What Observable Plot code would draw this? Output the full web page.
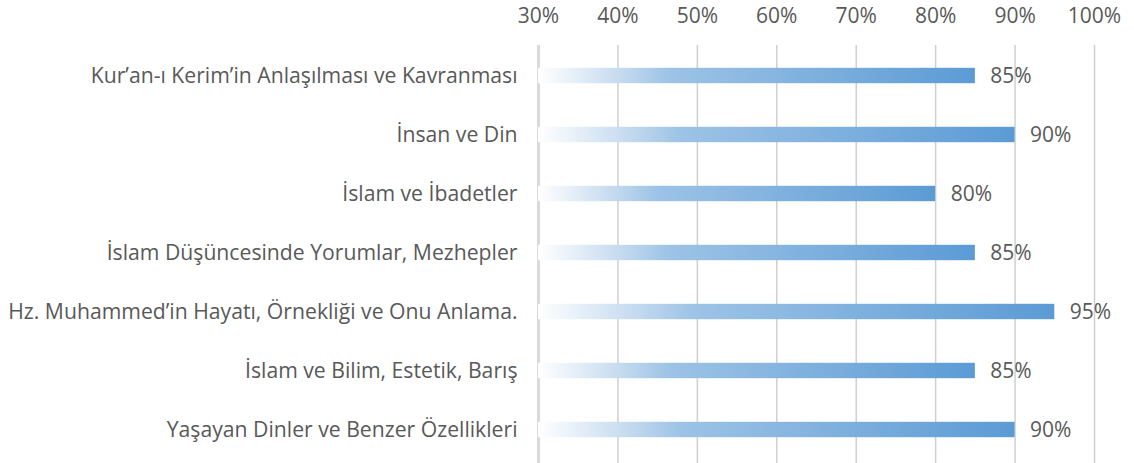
<!DOCTYPE html>
<html>
<head>
<meta charset="utf-8">
<script src="https://cdn.jsdelivr.net/npm/d3@7"></script>
<script src="https://cdn.jsdelivr.net/npm/@observablehq/plot@0.6"></script>
<style>
  html, body { margin: 0; padding: 0; background: #fff; }
  #chart svg { display: block; }
</style>
</head>
<body>
<div id="chart"></div>
<script>
const categories = [
  "Kur’an-ı Kerim’in Anlaşılması ve Kavranması",
  "İnsan ve Din",
  "İslam ve İbadetler",
  "İslam Düşüncesinde Yorumlar, Mezhepler",
  "Hz. Muhammed’in Hayatı, Örnekliği ve Onu Anlama.",
  "İslam ve Bilim, Estetik, Barış",
  "Yaşayan Dinler ve Benzer Özellikleri"
];
const values = [0.85, 0.90, 0.80, 0.85, 0.95, 0.85, 0.90];
const xTicks = [0.3, 0.4, 0.5, 0.6, 0.7, 0.8, 0.9, 1.0];
const xMin = 0.3;

const data = categories.map((c, i) => ({category: c, value: values[i]}));
const fmt = d3.format(".0%");
const textColor = "#595959";

const chart = Plot.plot({
  width: 1134,
  height: 463,
  marginLeft: 538,
  marginRight: 40,
  marginTop: 45,
  marginBottom: 4,
  style: {fontFamily: "'Open Sans', Lato, sans-serif", fontSize: "21px", color: textColor, background: "#fff"},
  x: {domain: [xMin, 1], axis: null, label: null},
  y: {domain: categories, padding: 0, axis: null, label: null},
  marks: [
    Plot.ruleX(xTicks.filter(t => t > xMin), {stroke: "#d0d0d0", strokeWidth: 1.5, insetBottom: -4}),
    Plot.ruleX([xMin], {stroke: "#d9d9d9", strokeWidth: 3, insetBottom: -4}),
    Plot.barX(data, {x1: xMin, x2: "value", y: "category", fill: "url(#barGrad)", insetTop: 21.8, insetBottom: 21.8}),
    Plot.text(data, {x: "value", y: "category", text: d => fmt(d.value), textAnchor: "start", dx: 15, fill: textColor, fontSize: 21}),
    Plot.axisX(xTicks, {anchor: "top", tickSize: 0, tickPadding: 23, tickFormat: fmt, fontSize: 21, fill: textColor, label: null}),
    Plot.axisY({anchor: "left", tickSize: 0, tickPadding: 21, fontSize: 21.2, fill: textColor, textAnchor: "end", label: null})
  ]
});

// gradient definition for the bars
const svg = d3.select(chart);
const defs = svg.insert("defs", ":first-child");
const grad = defs.append("linearGradient")
  .attr("id", "barGrad")
  .attr("x1", "0").attr("x2", "1").attr("y1", "0").attr("y2", "0");
[[0, "#ffffff"], [0.18, "#c8dcf0"], [0.3, "#9dc3e6"], [1, "#5b9bd5"]].forEach(([o, c]) => {
  grad.append("stop").attr("offset", o).attr("stop-color", c);
});

document.getElementById("chart").appendChild(chart);
</script>
</body>
</html>
